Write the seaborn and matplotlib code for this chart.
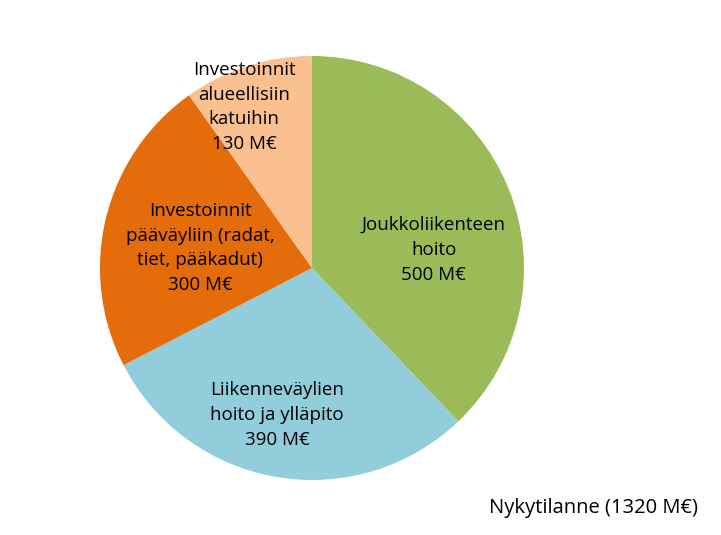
import matplotlib
matplotlib.use("Agg")
import matplotlib.pyplot as plt
import seaborn as sns

sns.set_theme(style="white")
plt.rcParams['font.family'] = ['Open Sans', 'DejaVu Sans']

labels = ["Joukkoliikenteen\nhoito\n500 M€",
          "Liikenneväylien\nhoito ja ylläpito\n390 M€",
          "Investoinnit\npääväyliin (radat,\ntiet, pääkadut)\n300 M€",
          "Investoinnit\nalueellisiin\nkatuihin\n130 M€"]
values = [500, 390, 300, 130]
colors = ["#9BBB59", "#92CDDC", "#E46C0A", "#FAC090"]
label_pos = [(0.575, 0.085), (-0.165, -0.693), (-0.528, 0.094), (-0.32, 0.76)]
title = "Nykytilanne (1320 M€)"

W, H = 721, 535
fig = plt.figure(figsize=(W / 100, H / 100), dpi=100)
cx, cy, r = 312, 268, 212
ax = fig.add_axes([(cx - r) / W, (H - cy - r) / H, 2 * r / W, 2 * r / H])
ax.pie(values, colors=colors, startangle=90, counterclock=False,
       wedgeprops=dict(linewidth=0))
ax.set_xlim(-1, 1)
ax.set_ylim(-1, 1)
ax.set_aspect('equal')
ax.axis('off')
for lab, (x, y) in zip(labels, label_pos):
    ax.text(x, y, lab, ha='center', va='center', fontsize=13.5, color='black',
            linespacing=1.48)
fig.text(698 / W, 1 - 508 / H, title, ha='right', va='center', fontsize=14.5,
         color='black')
fig.savefig("out.png", dpi=100)
